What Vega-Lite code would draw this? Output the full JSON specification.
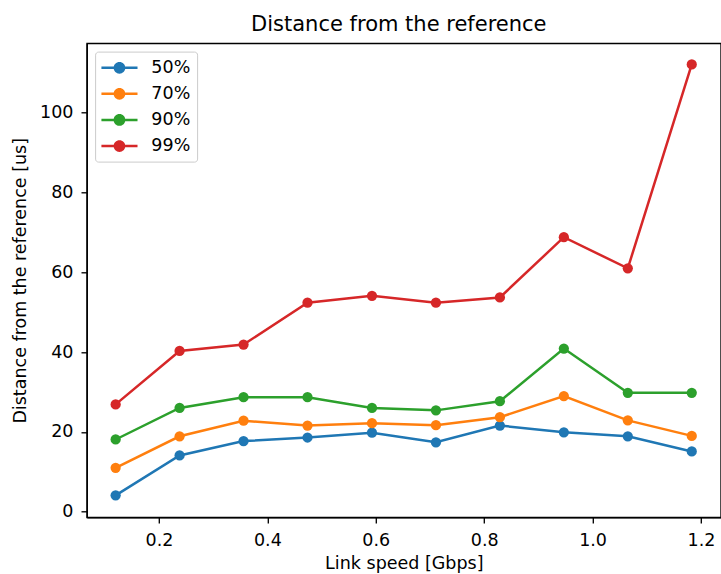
{
  "$schema": "https://vega.github.io/schema/vega-lite/v6.json",
  "autosize": {"type": "none"},
  "padding": {"left": 86.8, "top": 43.3, "right": 0.2, "bottom": 56.7},
  "width": 634,
  "height": 474,
  "background": "white",
  "title": {"text": "Distance from the reference", "font": "DejaVu Sans", "fontSize": 21, "fontWeight": "normal", "color": "black", "baseline": "alphabetic", "offset": -9, "dx": -5},
  "config": {
    "view": {"stroke": "black", "strokeWidth": 1.33},
    "axis": {"grid": false, "domainColor": "black", "domainWidth": 1.33, "tickColor": "black", "tickWidth": 1.33, "tickSize": 5.8, "labelColor": "black", "labelFont": "DejaVu Sans", "labelFontSize": 17.5, "labelPadding": 8, "titleFont": "DejaVu Sans", "titleFontSize": 17.5, "titleFontWeight": "normal", "titleColor": "black"}
  },
  "data": {"values": [
    {"x": 0.120, "p": "50%", "v": 4.1}, {"x": 0.238, "p": "50%", "v": 14.1}, {"x": 0.356, "p": "50%", "v": 17.7}, {"x": 0.474, "p": "50%", "v": 18.6}, {"x": 0.593, "p": "50%", "v": 19.8}, {"x": 0.711, "p": "50%", "v": 17.4}, {"x": 0.829, "p": "50%", "v": 21.6}, {"x": 0.947, "p": "50%", "v": 19.9}, {"x": 1.065, "p": "50%", "v": 18.9}, {"x": 1.183, "p": "50%", "v": 15.1},
    {"x": 0.120, "p": "70%", "v": 11.0}, {"x": 0.238, "p": "70%", "v": 18.9}, {"x": 0.356, "p": "70%", "v": 22.8}, {"x": 0.474, "p": "70%", "v": 21.6}, {"x": 0.593, "p": "70%", "v": 22.2}, {"x": 0.711, "p": "70%", "v": 21.7}, {"x": 0.829, "p": "70%", "v": 23.7}, {"x": 0.947, "p": "70%", "v": 29.0}, {"x": 1.065, "p": "70%", "v": 22.9}, {"x": 1.183, "p": "70%", "v": 19.0},
    {"x": 0.120, "p": "90%", "v": 18.1}, {"x": 0.238, "p": "90%", "v": 26.0}, {"x": 0.356, "p": "90%", "v": 28.7}, {"x": 0.474, "p": "90%", "v": 28.7}, {"x": 0.593, "p": "90%", "v": 26.0}, {"x": 0.711, "p": "90%", "v": 25.4}, {"x": 0.829, "p": "90%", "v": 27.7}, {"x": 0.947, "p": "90%", "v": 40.9}, {"x": 1.065, "p": "90%", "v": 29.8}, {"x": 1.183, "p": "90%", "v": 29.8},
    {"x": 0.120, "p": "99%", "v": 26.9}, {"x": 0.238, "p": "99%", "v": 40.3}, {"x": 0.356, "p": "99%", "v": 41.9}, {"x": 0.474, "p": "99%", "v": 52.4}, {"x": 0.593, "p": "99%", "v": 54.1}, {"x": 0.711, "p": "99%", "v": 52.4}, {"x": 0.829, "p": "99%", "v": 53.7}, {"x": 0.947, "p": "99%", "v": 68.8}, {"x": 1.065, "p": "99%", "v": 61.0}, {"x": 1.183, "p": "99%", "v": 112.1}
  ]},
  "mark": {"type": "line", "strokeWidth": 2.5, "point": {"filled": true, "size": 105, "opacity": 1}},
  "encoding": {
    "x": {"field": "x", "type": "quantitative", "scale": {"domain": [0.0668, 1.2366], "nice": false, "zero": false}, "axis": {"values": [0.2, 0.4, 0.6, 0.8, 1.0, 1.2], "format": ".1f", "title": "Link speed [Gbps]", "titlePadding": 6}},
    "y": {"field": "v", "type": "quantitative", "scale": {"domain": [-1.4, 117.4], "nice": false, "zero": false}, "axis": {"values": [0, 20, 40, 60, 80, 100], "format": "d", "title": "Distance from the reference [us]", "titlePadding": 10}},
    "color": {"field": "p", "type": "nominal", "scale": {"domain": ["50%", "70%", "90%", "99%"], "range": ["#1f77b4", "#ff7f0e", "#2ca02c", "#d62728"]},
      "legend": {"title": null, "orient": "none", "legendX": 8.3, "legendY": 8.3, "padding": 6.67, "fillColor": "rgba(255,255,255,0.8)", "strokeColor": "#cccccc", "cornerRadius": 3, "labelFont": "DejaVu Sans", "labelFontSize": 17.5, "labelColor": "black", "symbolSize": 346, "symbolOffset": 8.2, "labelOffset": 22.4, "rowPadding": 8.1,
        "symbolType": "M-1.94,-0.134 L1.94,-0.134 L1.94,0.134 L-1.94,0.134 Z M0.63,0 A0.63,0.63 0 1,1 -0.63,0 A0.63,0.63 0 1,1 0.63,0 Z",
        "encode": {"symbols": {"update": {"fill": {"scale": "color", "field": "value"}, "strokeWidth": {"value": 0}, "opacity": {"value": 1}}}}}
    }
  }
}
